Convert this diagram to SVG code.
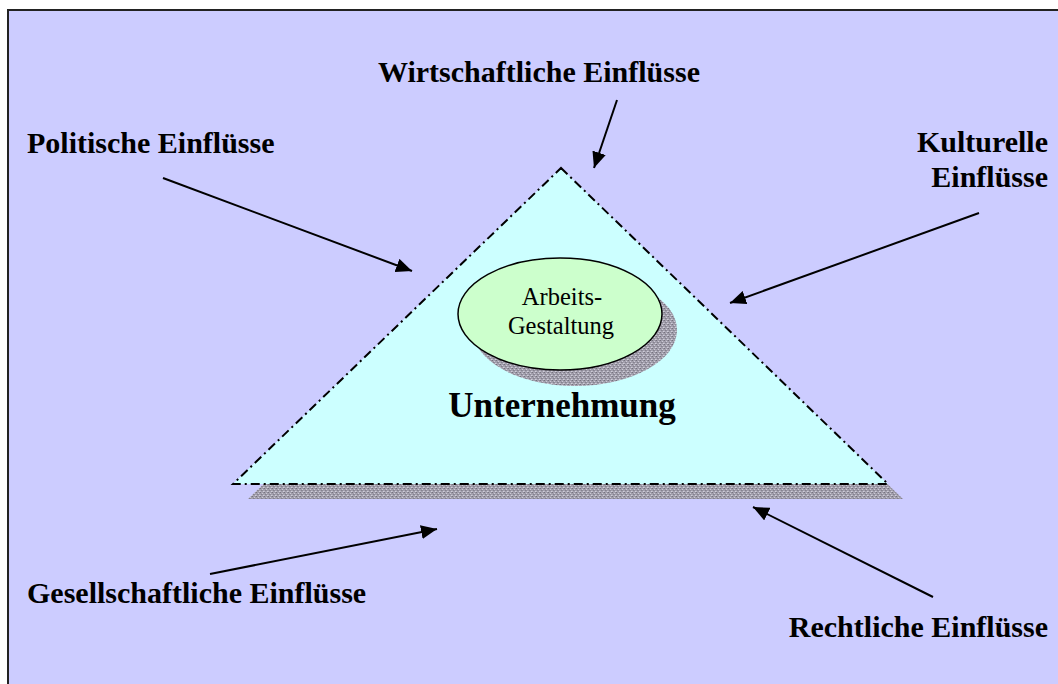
<svg xmlns="http://www.w3.org/2000/svg" width="1058" height="684" viewBox="0 0 1058 684">
<defs>
<style>
.lbl{font-family:"Liberation Serif","Times New Roman",serif;font-weight:bold;font-size:30px;fill:#000}
.inner{font-family:"Liberation Serif","Times New Roman",serif;font-size:24.5px;fill:#000}
.conn{stroke:#000;stroke-width:2;fill:none;marker-end:url(#ah)}
</style>
<marker id="ah" markerUnits="userSpaceOnUse" markerWidth="18" markerHeight="14" refX="16" refY="7" orient="auto">
<path d="M0,0 L16,7 L0,14 Z" fill="#000"/>
</marker>
<pattern id="stip" width="4" height="4" patternUnits="userSpaceOnUse">
<rect width="4" height="4" fill="#a29fac"/>
<rect x="0" y="0" width="1" height="1" fill="#75727e"/>
<rect x="2" y="1" width="1" height="1" fill="#cccad6"/>
<rect x="1" y="2" width="1" height="1" fill="#84818e"/>
<rect x="3" y="3" width="1" height="1" fill="#d0cedA"/>
<rect x="3" y="0" width="1" height="1" fill="#918e9b"/>
<rect x="0" y="3" width="1" height="1" fill="#bcbac6"/>
<rect x="2" y="2" width="1" height="1" fill="#8e8b98"/>
</pattern>
</defs>
<rect x="0" y="0" width="1058" height="684" fill="#fff"/>
<rect x="8" y="10" width="1060" height="690" fill="#ccccff" stroke="#222" stroke-width="2"/>

<g id="unternehmung">
<polygon points="576,183 903,499 248,499" fill="url(#stip)"/>
<polygon points="561,168 888,484 233,484" fill="#ccffff" stroke="#000" stroke-width="2" stroke-dasharray="9,4,2,4"/>
<text class="lbl" x="562" y="417" text-anchor="middle" style="font-size:35px">Unternehmung</text>
</g>

<g id="arbeitsgestaltung">
<ellipse cx="575" cy="330" rx="102" ry="56" fill="url(#stip)"/>
<ellipse cx="560" cy="314" rx="102" ry="56" fill="#ccffcc" stroke="#000" stroke-width="1.5"/>
<text class="inner" x="562" y="305" text-anchor="middle">Arbeits-</text>
<text class="inner" x="561" y="334" text-anchor="middle">Gestaltung</text>
</g>

<g id="politische"><text class="lbl" x="27" y="153">Politische Einflüsse</text></g>
<g id="wirtschaftliche"><text class="lbl" x="378" y="82">Wirtschaftliche Einflüsse</text></g>
<g id="kulturelle"><text class="lbl" x="1048" y="152" text-anchor="end">Kulturelle</text><text class="lbl" x="1048" y="187" text-anchor="end">Einflüsse</text></g>
<g id="gesellschaftliche"><text class="lbl" x="27" y="603">Gesellschaftliche Einflüsse</text></g>
<g id="rechtliche"><text class="lbl" x="1048" y="637" text-anchor="end">Rechtliche Einflüsse</text></g>

<g id="connectors">
<line class="conn" x1="163" y1="178" x2="412" y2="271"/>
<line class="conn" x1="617" y1="100" x2="594" y2="168"/>
<line class="conn" x1="979" y1="213" x2="730" y2="303"/>
<line class="conn" x1="210" y1="574" x2="437" y2="529"/>
<line class="conn" x1="933" y1="597" x2="753" y2="507"/>
</g>
</svg>
